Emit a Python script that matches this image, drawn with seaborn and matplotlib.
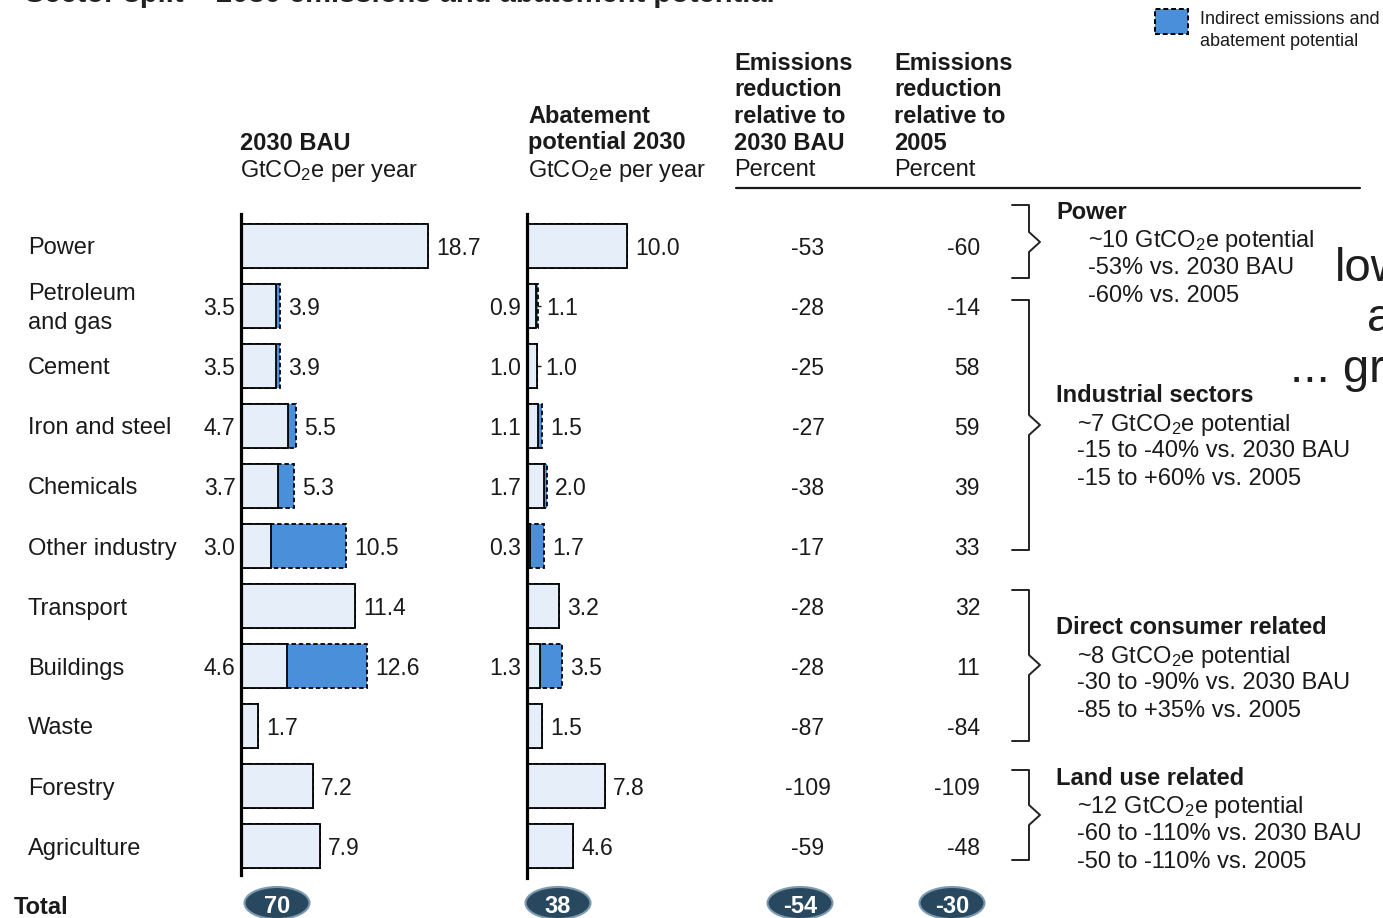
import matplotlib
matplotlib.use("Agg")
import numpy as np
import pandas as pd
import matplotlib.pyplot as plt
import seaborn as sns
from matplotlib.patches import Rectangle, Ellipse
from matplotlib.lines import Line2D
from matplotlib.transforms import blended_transform_factory

# ---- data -----------------------------------------------------------------
sectors = ["Power", "Petroleum\nand gas", "Cement", "Iron and steel", "Chemicals",
           "Other industry", "Transport", "Buildings", "Waste", "Forestry", "Agriculture"]
bau_total = [18.7, 3.9, 3.9, 5.5, 5.3, 10.5, 11.4, 12.6, 1.7, 7.2, 7.9]
bau_direct = [None, 3.5, 3.5, 4.7, 3.7, 3.0, None, 4.6, None, None, None]
abate_total = [10.0, 1.1, 1.0, 1.5, 2.0, 1.7, 3.2, 3.5, 1.5, 7.8, 4.6]
abate_direct = [None, 0.9, 1.0, 1.1, 1.7, 0.3, None, 1.3, None, None, None]
reduction_vs_bau = [-53, -28, -25, -27, -38, -17, -28, -28, -87, -109, -59]
reduction_vs_2005 = [-60, -14, 58, 59, 39, 33, 32, 11, -84, -109, -48]
totals = ["70", "38", "-54", "-30"]

groups = [
    ("Power", ["~10 GtCO$_2$e potential", "-53% vs. 2030 BAU", "-60% vs. 2005"]),
    ("Industrial sectors", ["~7 GtCO$_2$e potential", "-15 to -40% vs. 2030 BAU",
                            "-15 to +60% vs. 2005"]),
    ("Direct consumer related", ["~8 GtCO$_2$e potential", "-30 to -90% vs. 2030 BAU",
                                 "-85 to +35% vs. 2005"]),
    ("Land use related", ["~12 GtCO$_2$e potential", "-60 to -110% vs. 2030 BAU",
                          "-50 to -110% vs. 2005"]),
]

# ---- style ----------------------------------------------------------------
sns.set_theme(style="white")
plt.rcParams["font.family"] = ["Liberation Sans", "DejaVu Sans"]
plt.rcParams["mathtext.fontset"] = "custom"
plt.rcParams["mathtext.rm"] = "Liberation Sans"
plt.rcParams["mathtext.it"] = "Liberation Sans:italic"
plt.rcParams["mathtext.bf"] = "Liberation Sans:bold"

BLUE = "#4a8fd9"
LIGHT = "#e6eef9"
INK = "#1a1a1a"
FS = 17
VA = "center_baseline"
W, H = 1383, 918


def fx(x):
    return x / W


def fy(y):
    return 1 - y / H


fig = plt.figure(figsize=(W / 100, H / 100), dpi=100)
fig.patch.set_facecolor("white")

ROW0_PX, STEP_PX, AX_TOP_PX = 246, 60, 214


def panel(left_px, bottom_px, total, direct):
    ax = fig.add_axes([fx(left_px), fy(bottom_px), 200 / W, (bottom_px - AX_TOP_PX) / H])
    df = pd.DataFrame({
        "sector": sectors,
        "total": total,
        "direct": [t if d is None else d for d, t in zip(direct, total)],
    })
    # full bar (indirect share shows as the dashed blue remainder)
    sns.barplot(data=df, y="sector", x="total", orient="h", color=BLUE, saturation=1,
                width=0.73, edgecolor="black", linewidth=1.3, linestyle=(0, (2.5, 1.5)),
                errorbar=None, ax=ax)
    # direct share on top
    sns.barplot(data=df, y="sector", x="direct", orient="h", color=LIGHT, saturation=1,
                width=0.73, edgecolor="black", linewidth=1.3,
                errorbar=None, ax=ax)
    for t in ax.bar_label(ax.containers[0], fmt="%.1f", padding=6, fontsize=16.5,
                          color=INK):
        t.set_verticalalignment(VA)
    ax.set_xlim(0, 20)
    top = -(ROW0_PX - AX_TOP_PX) / STEP_PX
    ax.set_ylim(top + (bottom_px - AX_TOP_PX) / STEP_PX, top)
    ax.set_xlabel("")
    ax.set_ylabel("")
    ax.set_xticks([])
    idx = [i for i, d in enumerate(direct) if d is not None]
    ax.set_yticks(idx, labels=[f"{direct[i]:.1f}" for i in idx])
    ax.tick_params(axis="y", left=True, direction="in", length=10, width=1.0,
                   color=INK, pad=4, labelsize=16.5, labelcolor=INK)
    sns.despine(ax=ax, bottom=True)
    ax.spines["left"].set_linewidth(2.3)
    ax.spines["left"].set_color("black")
    ax.patch.set_alpha(0)
    return ax


ax_bau = panel(241, 875, bau_total, bau_direct)
ax_ab = panel(527, 878, abate_total, abate_direct)

rows = blended_transform_factory(fig.transFigure, ax_bau.transData)

# sector names
for i, name in enumerate(sectors):
    parts = name.split("\n")
    offs = np.linspace(-0.24, 0.24, len(parts)) if len(parts) > 1 else [0]
    for part, o in zip(parts, offs):
        fig.text(fx(28), i + o, part, transform=rows, va=VA, ha="left",
                 fontsize=FS, color=INK)

# percentage columns
for i, (a, b) in enumerate(zip(reduction_vs_bau, reduction_vs_2005)):
    fig.text(fx(808), i, f"{a:d}", transform=rows, va=VA, ha="center",
             fontsize=16.5, color=INK)
    fig.text(fx(980), i, f"{b:d}", transform=rows, va=VA, ha="right",
             fontsize=16.5, color=INK)


# column headers
def header(x, lines_bold, unit):
    y0 = 167 - 26.5 * len(lines_bold)
    for k, s in enumerate(lines_bold):
        fig.text(fx(x), fy(y0 + 26.5 * k), s, va=VA, ha="left", fontsize=FS,
                 weight="bold", color=INK)
    fig.text(fx(x), fy(167), unit, va=VA, ha="left", fontsize=FS, color=INK)


header(240, ["2030 BAU"], "GtCO$_2$e per year")
header(528, ["Abatement", "potential 2030"], "GtCO$_2$e per year")
header(734, ["Emissions", "reduction", "relative to", "2030 BAU"], "Percent")
header(894, ["Emissions", "reduction", "relative to", "2005"], "Percent")
fig.add_artist(Line2D([fx(736), fx(1360)], [fy(188), fy(188)], color=INK, lw=1.6,
                      transform=fig.transFigure))

# partially visible title at the top edge
fig.text(fx(25), fy(2), "Sector split \u2013 2030 emissions and abatement potential",
         va="baseline", ha="left", fontsize=21, weight="bold", color="#222222")

# legend
fig.add_artist(Rectangle((fx(1155), fy(34)), 33 / W, 25 / H, transform=fig.transFigure,
                         facecolor=BLUE, edgecolor="black", linestyle=(0, (2.5, 1.5)),
                         lw=1.4))
fig.text(fx(1200), fy(18), "Indirect emissions and", va=VA, ha="left",
         fontsize=13, color=INK)
fig.text(fx(1200), fy(40), "abatement potential", va=VA, ha="left",
         fontsize=13, color=INK)

# group brackets and notes
brackets = [(205, 242, 278), (300, 425, 550), (590, 665, 741), (770, 815, 860)]
title_y = [210, 393, 625, 776]
sub_x = [1088, 1077, 1077, 1077]
for (top, mid, bot), ty, sx, (gname, glines) in zip(brackets, title_y, sub_x, groups):
    xs = [1012, 1029, 1029, 1040, 1029, 1029, 1012]
    ys = [top, top, mid - 10, mid, mid + 10, bot, bot]
    fig.add_artist(Line2D([fx(v) for v in xs], [fy(v) for v in ys], color="#222222",
                          lw=1.4, transform=fig.transFigure))
    fig.text(fx(1056), fy(ty), gname, va=VA, ha="left", fontsize=FS,
             weight="bold", color=INK)
    for k, s in enumerate(glines):
        fig.text(fx(sx), fy(ty + 28 + 27.7 * k), s, va=VA, ha="left",
                 fontsize=FS, color=INK)

# totals row
fig.text(fx(14), fy(905), "Total", va=VA, ha="left", fontsize=FS,
         weight="bold", color=INK)
for cx, val in zip([277, 558, 800, 952], totals):
    fig.add_artist(Ellipse((fx(cx), fy(903)), 65 / W, 32 / H, transform=fig.transFigure,
                           facecolor="#27485e", edgecolor="#7e9aae", lw=1.5))
    fig.text(fx(cx), fy(904), val, va=VA, ha="center", fontsize=17,
             weight="bold", color="white")

# large caption text running in from the right edge
for x, y, s in [(1335, 281, "low"), (1367, 331, "a"), (1290, 382, "... gre")]:
    fig.text(fx(x), fy(y), s, va="baseline", ha="left", fontsize=34, color="#1e1e1e")

fig.savefig("out.png", dpi=100, facecolor="white")
